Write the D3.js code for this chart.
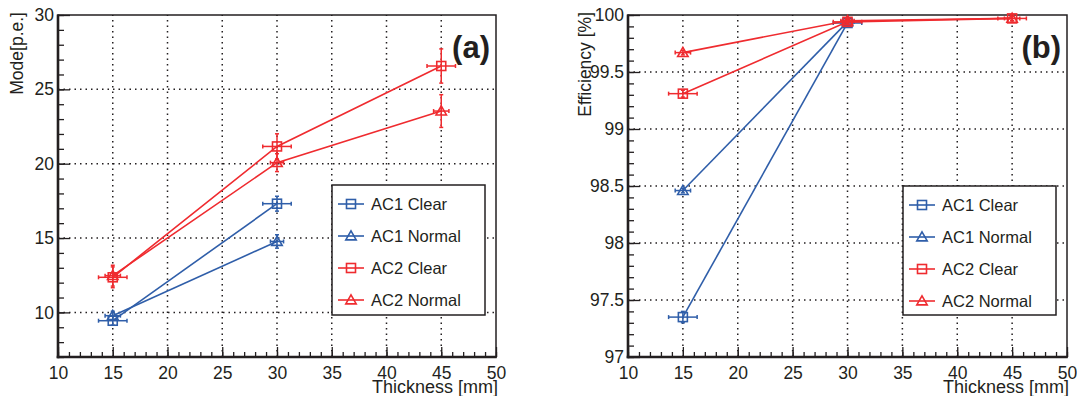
<!DOCTYPE html>
<html>
<head>
<meta charset="utf-8">
<script src="https://cdn.jsdelivr.net/npm/d3@7"></script>
<style>
  html, body { margin: 0; padding: 0; background: #fff; }
  svg text { font-family: "Liberation Sans", Arial, sans-serif; fill: #231f20; }
</style>
</head>
<body>
<svg id="chart" width="1077" height="396"></svg>
<script>
// ---- data ----
const seriesNames = ["AC1 Clear", "AC1 Normal", "AC2 Clear", "AC2 Normal"];
const thickness = [15, 30, 45];

// Panel (a): mode [p.e.]
const modeAC1Clear  = [9.44, 17.31];
const modeAC1Normal = [9.78, 14.77];
const modeAC2Clear  = [12.36, 21.16, 26.57];
const modeAC2Normal = [12.47, 20.07, 23.54];
const modeErrAC1Clear  = [0.3, 0.5];
const modeErrAC1Normal = [0.3, 0.45];
const modeErrAC2Clear  = [0.7, 0.85, 1.15];
const modeErrAC2Normal = [0.7, 0.6, 1.1];

// Panel (b): efficiency [%]
const effAC1Clear  = [97.35, 99.93];
const effAC1Normal = [98.46, 99.94];
const effAC2Clear  = [99.31, 99.94, 99.97];
const effAC2Normal = [99.67, 99.95, 99.97];
const effErrAC1Clear  = [0.05, 0.02];
const effErrAC1Normal = [0.02, 0.02];
const effErrAC2Clear  = [0.03, 0.02, 0.02];
const effErrAC2Normal = [0.02, 0.02, 0.02];

// horizontal (thickness) uncertainties
const thickErrClear  = [1.3, 1.3, 1.3];
const thickErrNormal = [0.7, 0.6, 0.7];

const xTicks = [10, 15, 20, 25, 30, 35, 40, 45, 50];
const modeTicks = [10, 15, 20, 25, 30];
const effTicks = [97, 97.5, 98, 98.5, 99, 99.5, 100];
const effTickLabels = ["97", "97.5", "98", "98.5", "99", "99.5", "100"];

// ---- styles ----
const BLUE = "#2f5ea9";
const RED = "#ef2b2f";
const seriesColor = [BLUE, BLUE, RED, RED];
const seriesMarker = ["square", "triangle", "square", "triangle"];

const svg = d3.select("#chart");

function marker(g, type, cx, cy, color) {
  const s = 4.5;
  if (type === "square") {
    g.append("rect").attr("x", cx - s).attr("y", cy - s)
      .attr("width", 2 * s).attr("height", 2 * s)
      .attr("fill", "none").attr("stroke", color).attr("stroke-width", 1.6);
  } else {
    const h = 5.2;
    g.append("path")
      .attr("d", `M${cx},${cy - h}L${cx + h},${cy + h * 0.75}L${cx - h},${cy + h * 0.75}Z`)
      .attr("fill", "none").attr("stroke", color).attr("stroke-width", 1.6);
  }
}

function panel(cfg) {
  const { left, right, top, bottom } = cfg;
  const x = d3.scaleLinear().domain([10, 50]).range([left, right]);
  const y = d3.scaleLinear().domain(cfg.yDomain).range([bottom, top]);
  const g = svg.append("g");

  // grid (dotted)
  const grid = g.append("g").attr("stroke", "#231f20").attr("stroke-width", 1.5)
    .attr("stroke-dasharray", "1.5,4");
  xTicks.slice(1, -1).forEach(t => grid.append("line")
    .attr("x1", x(t)).attr("x2", x(t)).attr("y1", bottom).attr("y2", top));
  cfg.yTicks.slice(0, -1).forEach(t => {
    if (t === cfg.yDomain[0]) return;
    grid.append("line").attr("x1", left).attr("x2", right).attr("y1", y(t)).attr("y2", y(t));
  });

  // axes via d3 axis generators
  const xMinor = d3.range(10, 50.001, 1);
  const yMinor = d3.range(cfg.yDomain[0], cfg.yDomain[1] + 1e-9, cfg.yMinorStep);

  const xAxisMinor = d3.axisBottom(x).tickValues(xMinor).tickSize(-5).tickFormat("");
  const xAxisMajor = d3.axisBottom(x).tickValues(xTicks).tickSize(-10).tickFormat(d3.format("d"));
  const yAxisMinor = d3.axisLeft(y).tickValues(yMinor).tickSize(-6).tickFormat("");
  const yAxisMajor = d3.axisLeft(y).tickValues(cfg.yTicks).tickSize(-12)
    .tickFormat((d, i) => cfg.yTickLabels[i]);

  [xAxisMinor, xAxisMajor].forEach(ax => {
    const a = g.append("g").attr("transform", `translate(0,${bottom})`).call(ax);
    a.select(".domain").remove();
    a.selectAll(".tick line").attr("stroke", "#231f20").attr("stroke-width", 1.3);
    a.selectAll("text").attr("font-size", 17.5).attr("fill", "#231f20")
      .attr("dy", null).attr("y", 21.5);
  });
  [yAxisMinor, yAxisMajor].forEach(ax => {
    const a = g.append("g").attr("transform", `translate(${left},0)`).call(ax);
    a.select(".domain").remove();
    a.selectAll(".tick line").attr("stroke", "#231f20").attr("stroke-width", 1.3);
    a.selectAll("text").attr("font-size", 17.5).attr("fill", "#231f20").attr("x", -4);
  });

  // frame
  g.append("rect").attr("x", left).attr("y", top).attr("width", right - left).attr("height", bottom - top)
    .attr("fill", "none").attr("stroke", "#231f20").attr("stroke-width", 1.5);
  g.append("line").attr("x1", left).attr("x2", left).attr("y1", top - 0.5).attr("y2", bottom + 1.3)
    .attr("stroke", "#231f20").attr("stroke-width", 2.6);
  g.append("line").attr("x1", left - 1.3).attr("x2", right + 0.7).attr("y1", bottom).attr("y2", bottom)
    .attr("stroke", "#231f20").attr("stroke-width", 2.6);

  // titles
  g.append("text").attr("font-size", 17.5)
    .attr("transform", `translate(${cfg.yTitleX},${top - 3}) rotate(-90)`)
    .attr("text-anchor", "end").text(cfg.yTitle);
  g.append("text").attr("font-size", 18).attr("x", right + 2).attr("y", 393)
    .attr("text-anchor", "end").text("Thickness [mm]");
  g.append("text").attr("font-size", 31).attr("font-weight", "bold")
    .attr("x", right - 6).attr("y", 58).attr("text-anchor", "end").text(cfg.label);

  // series
  cfg.series.forEach((s, i) => {
    const color = seriesColor[i];
    const sg = g.append("g");
    const pts = s.vals.map((v, j) => ({ x: thickness[j], y: v, ey: s.err[j], ex: s.ex[j] }));
    sg.append("path").datum(pts)
      .attr("d", d3.line().x(d => x(d.x)).y(d => y(d.y)))
      .attr("fill", "none").attr("stroke", color).attr("stroke-width", 1.6);
    pts.forEach(p => {
      const cx = x(p.x), cy = y(p.y);
      const x0 = x(p.x - p.ex), x1 = x(p.x + p.ex);
      const y0 = y(p.y - p.ey), y1 = y(p.y + p.ey);
      const eb = sg.append("g").attr("stroke", color).attr("stroke-width", 1.5);
      eb.append("line").attr("x1", x0).attr("x2", x1).attr("y1", cy).attr("y2", cy);
      eb.append("line").attr("x1", cx).attr("x2", cx).attr("y1", y0).attr("y2", y1);
      eb.append("line").attr("x1", x0).attr("x2", x0).attr("y1", cy - 2).attr("y2", cy + 2);
      eb.append("line").attr("x1", x1).attr("x2", x1).attr("y1", cy - 2).attr("y2", cy + 2);
      eb.append("line").attr("x1", cx - 2).attr("x2", cx + 2).attr("y1", y0).attr("y2", y0);
      eb.append("line").attr("x1", cx - 2).attr("x2", cx + 2).attr("y1", y1).attr("y2", y1);
      marker(sg, seriesMarker[i], cx, cy, color);
    });
  });

  // legend
  const L = cfg.legend;
  const lg = g.append("g");
  lg.append("rect").attr("x", L.x).attr("y", L.y).attr("width", L.w).attr("height", L.h)
    .attr("fill", "#fff").attr("stroke", "#231f20").attr("stroke-width", 1.5);
  seriesNames.forEach((name, i) => {
    const ey = L.y + 19 + i * 32;
    const lx = L.x + 6;
    lg.append("line").attr("x1", lx).attr("x2", lx + 26).attr("y1", ey).attr("y2", ey)
      .attr("stroke", seriesColor[i]).attr("stroke-width", 1.6);
    marker(lg, seriesMarker[i], lx + 13, ey, seriesColor[i]);
    lg.append("text").attr("x", lx + 33).attr("y", ey).attr("dy", "0.36em")
      .attr("font-size", 16.5).text(name);
  });
}

panel({
  left: 58, right: 496, top: 15, bottom: 357,
  yDomain: [7, 30], yTicks: modeTicks, yTickLabels: modeTicks.map(String), yMinorStep: 1,
  yTitle: "Mode[p.e.]", yTitleX: 23, label: "(a)",
  legend: { x: 332, y: 185, w: 153, h: 130 },
  series: [
    { vals: modeAC1Clear, err: modeErrAC1Clear, ex: thickErrClear },
    { vals: modeAC1Normal, err: modeErrAC1Normal, ex: thickErrNormal },
    { vals: modeAC2Clear, err: modeErrAC2Clear, ex: thickErrClear },
    { vals: modeAC2Normal, err: modeErrAC2Normal, ex: thickErrNormal }
  ]
});

panel({
  left: 628, right: 1067, top: 15, bottom: 357,
  yDomain: [97, 100], yTicks: effTicks, yTickLabels: effTickLabels, yMinorStep: 0.1,
  yTitle: "Efficiency [%]", yTitleX: 591, label: "(b)",
  legend: { x: 903, y: 186, w: 153, h: 129 },
  series: [
    { vals: effAC1Clear, err: effErrAC1Clear, ex: thickErrClear },
    { vals: effAC1Normal, err: effErrAC1Normal, ex: thickErrNormal },
    { vals: effAC2Clear, err: effErrAC2Clear, ex: thickErrClear },
    { vals: effAC2Normal, err: effErrAC2Normal, ex: thickErrNormal }
  ]
});
</script>
</body>
</html>
